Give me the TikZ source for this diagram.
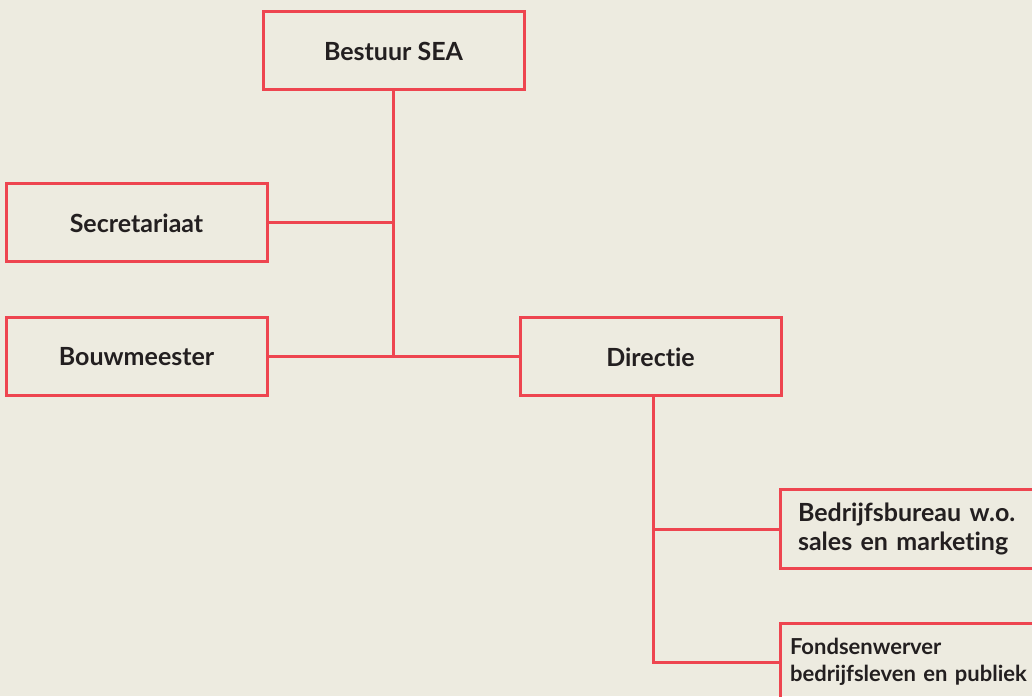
\documentclass[tikz,border=0pt]{standalone}
\usepackage{fontspec}
\usetikzlibrary{calc}
\setmainfont{Lato}[RawFeature={-liga;-dlig}]
\definecolor{bgc}{HTML}{EDEBE0}
\definecolor{redc}{HTML}{EE4550}
\definecolor{txtc}{HTML}{231F20}
\begin{document}
\begin{tikzpicture}[x=1pt,y=1pt,
  box/.style={draw=redc, line width=3pt, minimum width=261pt, minimum height=78pt, inner sep=0pt,
    font=\fontsize{25}{29}\selectfont\bfseries, text=txtc},
  conn/.style={draw=redc, line width=3pt}]
\fill[bgc] (0,0) rectangle (1032,696);
\useasboundingbox (0,0) rectangle (1032,696);
\begin{scope}
\clip (0,0) rectangle (1032,696);
\node[box] (bestuur) at (393.5,645) {Bestuur SEA};
\node[box] (secr) at (136.5,473) {Secretariaat};
\node[box] (bouw) at (136.5,339) {Bouwmeester};
\node[box] (dir) at (650.5,339) {Directie};
\node[box, align=left, text width=225pt, inner xsep=18pt] (bedr) at (910.5,167) {Bedrijfsbureau w.o.\\sales en marketing};
\node[box, align=left, text width=241pt, inner xsep=10pt, font=\fontsize{22}{26.5}\selectfont\bfseries] (fonds) at (910.5,34) {\raisebox{-5pt}{Fondsenwerver}\\\raisebox{-5pt}{bedrijfsleven en publiek}};
\end{scope}
\coordinate (dbot) at ($(dir.south)+(2.5,0)$);
\draw[conn] (bestuur.south) -- (bestuur.south |- bouw.east);
\draw[conn] (secr.east) -- (bestuur.south |- secr.east);
\draw[conn] (bouw.east) -- (dir.west);
\draw[conn] (dbot) |- (fonds.west);
\draw[conn] (dbot |- bedr.west) -- (bedr.west);
\end{tikzpicture}
\end{document}
